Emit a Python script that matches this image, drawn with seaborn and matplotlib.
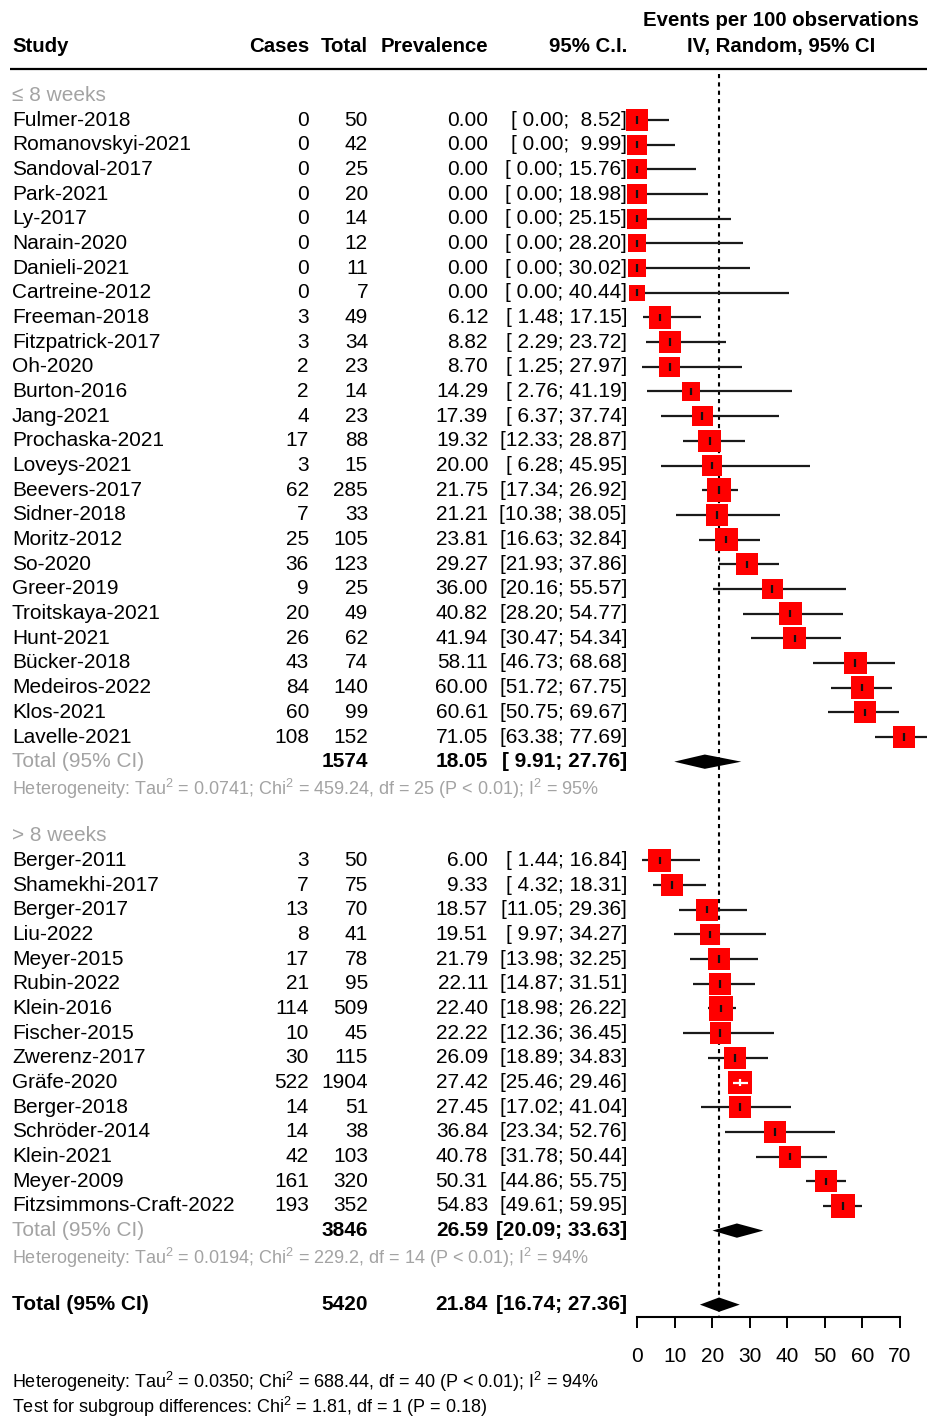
import matplotlib
matplotlib.use("Agg")
import matplotlib.pyplot as plt
import matplotlib.transforms as mtransforms
import seaborn as sns
import pandas as pd
import numpy as np

# ---------------- data ----------------
g1_study = ["Fulmer-2018", "Romanovskyi-2021", "Sandoval-2017", "Park-2021", "Ly-2017",
            "Narain-2020", "Danieli-2021", "Cartreine-2012", "Freeman-2018", "Fitzpatrick-2017",
            "Oh-2020", "Burton-2016", "Jang-2021", "Prochaska-2021", "Loveys-2021",
            "Beevers-2017", "Sidner-2018", "Moritz-2012", "So-2020", "Greer-2019",
            "Troitskaya-2021", "Hunt-2021", "Bücker-2018", "Medeiros-2022", "Klos-2021",
            "Lavelle-2021"]
g1_cases = [0, 0, 0, 0, 0, 0, 0, 0, 3, 3, 2, 2, 4, 17, 3, 62, 7, 25, 36, 9, 20, 26, 43, 84, 60, 108]
g1_total = [50, 42, 25, 20, 14, 12, 11, 7, 49, 34, 23, 14, 23, 88, 15, 285, 33, 105, 123, 25,
            49, 62, 74, 140, 99, 152]
g1_prev = [0.00, 0.00, 0.00, 0.00, 0.00, 0.00, 0.00, 0.00, 6.12, 8.82, 8.70, 14.29, 17.39,
           19.32, 20.00, 21.75, 21.21, 23.81, 29.27, 36.00, 40.82, 41.94, 58.11, 60.00, 60.61, 71.05]
g1_lo = [0.00, 0.00, 0.00, 0.00, 0.00, 0.00, 0.00, 0.00, 1.48, 2.29, 1.25, 2.76, 6.37,
         12.33, 6.28, 17.34, 10.38, 16.63, 21.93, 20.16, 28.20, 30.47, 46.73, 51.72, 50.75, 63.38]
g1_hi = [8.52, 9.99, 15.76, 18.98, 25.15, 28.20, 30.02, 40.44, 17.15, 23.72, 27.97, 41.19, 37.74,
         28.87, 45.95, 26.92, 38.05, 32.84, 37.86, 55.57, 54.77, 54.34, 68.68, 67.75, 69.67, 77.69]
g1_weight = [20, 18.3, 18.3, 18.3, 18.3, 16.7, 16.7, 15, 20.7, 20.7, 19, 17, 19, 20.7, 18.7,
             22, 20.7, 20.7, 20.7, 19, 20.7, 20.7, 20.7, 20.7, 20.7, 20.7]

g2_study = ["Berger-2011", "Shamekhi-2017", "Berger-2017", "Liu-2022", "Meyer-2015",
            "Rubin-2022", "Klein-2016", "Fischer-2015", "Zwerenz-2017", "Gräfe-2020",
            "Berger-2018", "Schröder-2014", "Klein-2021", "Meyer-2009", "Fitzsimmons-Craft-2022"]
g2_cases = [3, 7, 13, 8, 17, 21, 114, 10, 30, 522, 14, 14, 42, 161, 193]
g2_total = [50, 75, 70, 41, 78, 95, 509, 45, 115, 1904, 51, 38, 103, 320, 352]
g2_prev = [6.00, 9.33, 18.57, 19.51, 21.79, 22.11, 22.40, 22.22, 26.09, 27.42, 27.45, 36.84,
           40.78, 50.31, 54.83]
g2_lo = [1.44, 4.32, 11.05, 9.97, 13.98, 14.87, 18.98, 12.36, 18.89, 25.46, 17.02, 23.34,
         31.78, 44.86, 49.61]
g2_hi = [16.84, 18.31, 29.36, 34.27, 32.25, 31.51, 26.22, 36.45, 34.83, 29.46, 41.04, 52.76,
         50.44, 55.75, 59.95]
g2_weight = [20.7, 20.7, 20.7, 18.7, 20.7, 20.7, 22.3, 20.3, 20.3, 22, 20.3, 20.3, 20.3, 20.3, 22]

group_labels = ["\u2264 8 weeks", "> 8 weeks"]
sub_total_n = [1574, 3846]
sub_est = [18.05, 26.59]
sub_lo = [9.91, 20.09]
sub_hi = [27.76, 33.63]
sub_het = ["Heterogeneity: Tau$^2$ = 0.0741; Chi$^2$ = 459.24, df = 25 (P < 0.01); I$^2$ = 95%",
           "Heterogeneity: Tau$^2$ = 0.0194; Chi$^2$ = 229.2, df = 14 (P < 0.01); I$^2$ = 94%"]
overall_n = 5420
overall_est = 21.84
overall_lo = 16.74
overall_hi = 27.36
overall_het = "Heterogeneity: Tau$^2$ = 0.0350; Chi$^2$ = 688.44, df = 40 (P < 0.01); I$^2$ = 94%"
subgroup_test = "Test for subgroup differences: Chi$^2$ = 1.81, df = 1 (P = 0.18)"
x_ticks = [0, 10, 20, 30, 40, 50, 60, 70]

# ---------------- style ----------------
sns.set_theme(style="white")
plt.rcParams["font.family"] = ["Liberation Sans", "DejaVu Sans"]
plt.rcParams["mathtext.fontset"] = "custom"
plt.rcParams["mathtext.rm"] = "Liberation Sans"
plt.rcParams["mathtext.it"] = "Liberation Sans:italic"
plt.rcParams["mathtext.bf"] = "Liberation Sans:bold"

W, H = 927, 1418
ROW0, ROWH = 120.0, 24.68      # pixel centre of first study row, row pitch
FS = 15.0
FS_HEAD = 14.7
FS_HET = 13.0
GRAY = "#a3a3a3"

fig = plt.figure(figsize=(W / 100, H / 100), dpi=100)
fig.patch.set_facecolor("white")
ax = fig.add_axes([637 / W, 0, 263 / W, 1])
ax.set_xlim(0, 70)
ax.set_ylim((H - ROW0) / ROWH, -ROW0 / ROWH)
ax.set_facecolor("none")

def px_row(ypx):
    return (ypx - ROW0) / ROWH

# build table of rows
rows = []
r = 0
g_rows = []
for gi, (st, ca, to, pr, lo, hi, wt) in enumerate([
        (g1_study, g1_cases, g1_total, g1_prev, g1_lo, g1_hi, g1_weight),
        (g2_study, g2_cases, g2_total, g2_prev, g2_lo, g2_hi, g2_weight)]):
    head = r - 1
    for i in range(len(st)):
        rows.append(dict(group=gi, study=st[i], cases=ca[i], total=to[i], prev=pr[i],
                         lo=lo[i], hi=hi[i], w=wt[i], row=r))
        r += 1
    g_rows.append(dict(head=head, total=r, het=r + 1))
    r += 4
df = pd.DataFrame(rows)
overall_row = g_rows[-1]["het"] + 2

trans = mtransforms.blended_transform_factory(fig.transFigure, ax.transData)

def put(xpx, row, s, ha="left", **kw):
    kw.setdefault("fontsize", FS)
    kw.setdefault("color", "black")
    ax.text(xpx / W, row, s, ha=ha, va="center", transform=trans, **kw)

def ci_str(lo, hi):
    return f"[{lo:5.2f}; {hi:5.2f}]"

# header
hr = px_row(46)
hk = dict(fontweight="bold", fontsize=FS_HEAD)
put(12, hr, "Study", **hk)
put(309, hr, "Cases", ha="right", **hk)
put(368, hr, "Total", ha="right", **hk)
put(488, hr, "Prevalence", ha="right", **hk)
put(627, hr, "95% C.I.", ha="right", **hk)
put(781, hr, "IV, Random, 95% CI", ha="center", **hk)
put(781, px_row(20), "Events per 100 observations", ha="center", **hk)
ax.plot([10 / W, 1.0], [px_row(68.5)] * 2, color="black", lw=1.6, transform=trans,
        clip_on=False, solid_capstyle="butt")

# study rows text
for _, d in df.iterrows():
    put(12, d.row, d.study)
    put(309, d.row, f"{d.cases}", ha="right")
    put(368, d.row, f"{d.total}", ha="right")
    put(488, d.row, f"{d.prev:.2f}", ha="right")
    put(627, d.row, ci_str(d.lo, d.hi), ha="right")

# group headers / totals
for gi, g in enumerate(g_rows):
    put(12, g["head"], group_labels[gi], color=GRAY)
    put(12, g["total"], "Total (95% CI)", color=GRAY)
    put(368, g["total"], f"{sub_total_n[gi]}", ha="right", fontweight="bold")
    put(488, g["total"], f"{sub_est[gi]:.2f}", ha="right", fontweight="bold")
    put(627, g["total"], ci_str(sub_lo[gi], sub_hi[gi]), ha="right", fontweight="bold")
    put(12, g["het"] + 0.12, sub_het[gi], color=GRAY, fontsize=FS_HET)

put(12, overall_row, "Total (95% CI)", fontweight="bold")
put(368, overall_row, f"{overall_n}", ha="right", fontweight="bold")
put(488, overall_row, f"{overall_est:.2f}", ha="right", fontweight="bold")
put(627, overall_row, ci_str(overall_lo, overall_hi), ha="right", fontweight="bold")
put(12, px_row(1382), overall_het, fontsize=FS_HET)
put(12, px_row(1407), subgroup_test, fontsize=FS_HET)

# reference line
axis_row = px_row(1316.5)
ax.vlines(overall_est, px_row(74), axis_row, colors="black", lw=1.5,
          linestyles=(0, (2.0, 2.0)), zorder=1)

# CI lines
SQ = 1.08
px_per_unit = 263 / 70
half_side = df["w"] * SQ / 2 / px_per_unit
inside = (df["lo"] >= df["prev"] - half_side) & (df["hi"] <= df["prev"] + half_side)
line_col = np.where(inside, "white", "black")
ax.hlines(df["row"][~inside], df["lo"][~inside], df["hi"][~inside], colors="#1a1a1a",
          lw=1.6, zorder=2, clip_on=False)

# squares via seaborn
size_map = {w: (w * SQ * 0.72) ** 2 for w in df["w"].unique()}
sns.scatterplot(data=df, x="prev", y="row", size="w", sizes=size_map, marker="s",
                color="#ff0000", linewidth=0, legend=False, ax=ax, zorder=3, clip_on=False)

# lines inside square (white) and estimate ticks
ax.hlines(df["row"][inside], df["lo"][inside], df["hi"][inside], colors="white",
          lw=1.6, zorder=4)
for (_, d), c in zip(df.iterrows(), line_col):
    ax.vlines(d.prev, d.row - 0.15, d.row + 0.15, colors="white" if c == "white" else "#111111",
              lw=1.6, zorder=4, clip_on=False)

# diamonds
hh = 0.29
for gi, g in enumerate(g_rows):
    rr = g["total"]
    ax.fill([sub_lo[gi], sub_est[gi], sub_hi[gi], sub_est[gi]], [rr, rr - hh, rr, rr + hh],
            color="black", lw=0, zorder=5)
ax.fill([overall_lo, overall_est, overall_hi, overall_est],
        [overall_row, overall_row - hh, overall_row, overall_row + hh],
        color="black", lw=0, zorder=5)

# axis
for s in ["top", "left", "right"]:
    ax.spines[s].set_visible(False)
ax.spines["bottom"].set_position(("data", axis_row))
ax.spines["bottom"].set_linewidth(1.5)
ax.spines["bottom"].set_color("black")
ax.spines["bottom"].set_bounds(0, 70)
ax.set_xticks(x_ticks)
ax.set_xticklabels([str(t) for t in x_ticks])
ax.tick_params(axis="x", direction="out", length=8, width=1.4, pad=14, labelsize=FS,
               colors="black", bottom=True)
ax.set_yticks([])
ax.set_xlabel("")
ax.set_ylabel("")

fig.savefig("out.png", dpi=100, facecolor="white")
